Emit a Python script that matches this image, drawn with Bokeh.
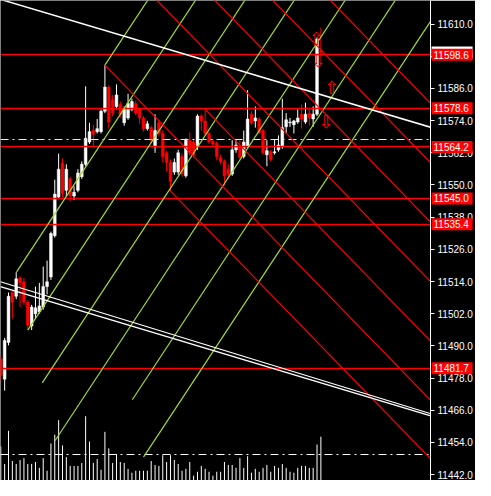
import numpy as np
from bokeh.plotting import figure
from bokeh.models import Range1d, LinearAxis, FixedTicker, NumeralTickFormatter, ColumnDataSource
from bokeh.core.properties import value
from bokeh.embed import file_html
from bokeh.resources import INLINE

# ---- candle data (bar index 0..83) ----
opens = [11485.1, 11477.6, 11491.3, 11509.9, 11508.5, 11515.3, 11513.9, 11506.3, 11497.4, 11502.0,
         11502.7, 11504.5, 11512.1, 11515.7, 11531.1, 11545.5, 11558.1, 11548.0, 11552.3, 11545.9,
         11548.0, 11553.1, 11557.7, 11566.0, 11570.3, 11569.9, 11569.9, 11577.5, 11586.5, 11581.8,
         11579.3, 11580.0, 11573.2, 11575.0, 11578.2, 11580.4, 11578.2, 11575.0, 11571.0, 11571.4,
         11564.2, 11573.2, 11569.2, 11562.0, 11558.4, 11554.8, 11554.8, 11560.6, 11553.4, 11566.7,
         11566.0, 11564.2, 11575.7, 11573.9, 11569.2, 11566.3, 11565.6, 11560.2, 11558.8, 11555.9,
         11554.1, 11563.1, 11564.2, 11560.6, 11564.2, 11576.4, 11573.9, 11574.6, 11570.3, 11561.3,
         11562.4, 11562.0, 11563.1, 11564.2, 11571.7, 11573.2, 11572.5, 11573.5, 11576.4, 11573.5,
         11576.8, 11574.6, 11576.4, 11600.1]
highs = [11486.6, 11493.0, 11509.9, 11511.0, 11517.5, 11516.0, 11515.3, 11507.1, 11505.3, 11512.1,
         11513.5, 11519.6, 11521.8, 11532.6, 11552.0, 11561.7, 11559.9, 11557.7, 11553.1, 11549.5,
         11555.9, 11558.8, 11586.8, 11573.2, 11572.5, 11574.6, 11578.2, 11594.7, 11587.2, 11583.6,
         11587.5, 11581.1, 11579.3, 11584.0, 11582.2, 11581.4, 11578.9, 11575.7, 11573.9, 11572.1,
         11576.4, 11574.3, 11570.3, 11562.8, 11559.5, 11559.9, 11563.1, 11561.7, 11567.4, 11569.6,
         11567.1, 11576.4, 11576.4, 11578.2, 11569.9, 11567.1, 11566.3, 11561.3, 11559.5, 11557.7,
         11566.7, 11566.7, 11566.7, 11570.3, 11585.4, 11577.5, 11579.3, 11575.3, 11571.0, 11566.7,
         11563.1, 11567.1, 11568.5, 11582.2, 11576.8, 11575.0, 11574.3, 11578.2, 11580.0, 11580.7,
         11578.6, 11579.3, 11605.1, 11608.7]
lows = [11476.9, 11473.3, 11490.2, 11500.2, 11507.4, 11504.5, 11505.3, 11495.9, 11495.9, 11500.2,
        11502.0, 11503.5, 11509.2, 11514.6, 11530.4, 11544.8, 11545.5, 11545.5, 11544.1, 11544.4,
        11547.3, 11552.3, 11557.0, 11565.3, 11564.2, 11569.2, 11569.2, 11576.8, 11571.0, 11575.7,
        11578.2, 11575.3, 11572.1, 11574.3, 11577.5, 11576.0, 11572.8, 11569.9, 11570.3, 11565.6,
        11562.0, 11568.1, 11558.4, 11555.2, 11547.7, 11553.8, 11553.8, 11553.1, 11552.7, 11561.0,
        11560.2, 11563.1, 11570.3, 11568.5, 11565.3, 11564.5, 11559.2, 11557.7, 11549.8, 11552.3,
        11553.4, 11562.0, 11559.5, 11559.9, 11563.5, 11572.5, 11571.4, 11568.9, 11561.3, 11557.0,
        11558.8, 11561.3, 11562.4, 11563.5, 11569.2, 11571.7, 11569.2, 11572.8, 11571.0, 11572.8,
        11572.1, 11571.7, 11575.7, 11598.0]
closes = [11479.0, 11492.0, 11508.5, 11506.3, 11515.0, 11513.5, 11506.3, 11497.7, 11504.5, 11504.2,
          11504.9, 11512.1, 11513.9, 11531.9, 11546.6, 11555.9, 11546.9, 11555.9, 11545.9, 11547.3,
          11554.5, 11557.7, 11567.4, 11569.9, 11568.9, 11571.0, 11577.5, 11586.5, 11573.5, 11576.8,
          11583.6, 11576.4, 11578.2, 11580.4, 11581.1, 11576.8, 11575.0, 11571.0, 11572.8, 11566.7,
          11570.3, 11569.2, 11560.6, 11558.4, 11551.3, 11558.4, 11562.0, 11554.1, 11566.7, 11562.0,
          11561.3, 11575.7, 11573.9, 11569.2, 11566.0, 11565.3, 11560.6, 11558.8, 11553.4, 11553.8,
          11563.1, 11564.9, 11560.2, 11566.0, 11574.6, 11573.2, 11575.0, 11569.6, 11562.0, 11562.8,
          11559.5, 11562.4, 11564.9, 11571.4, 11574.3, 11573.5, 11573.9, 11575.0, 11574.6, 11576.4,
          11575.0, 11576.4, 11604.4, 11599.4]
volumes = [350, 170, 510, 200, 170, 210, 230, 170, 170, 190,
           130, 230, 100, 380, 470, 620, 360, 240, 150, 150,
           150, 180, 660, 400, 180, 220, 110, 500, 330, 180,
           270, 190, 180, 120, 80, 100, 100, 100, 100, 200,
           160, 150, 260, 190, 260, 210, 170, 100, 120, 190,
           50, 90, 150, 120, 90, 50, 90, 90, 190, 160,
           160, 130, 230, 130, 250, 80, 120, 90, 130, 160,
           90, 150, 130, 170, 130, 90, 80, 130, 150, 150,
           130, 130, 370, 450]

# ---- horizontal levels / labels ----
levels = [11598.6, 11578.6, 11564.2, 11545.0, 11535.4, 11481.7]
level_labels = ["11598.6", "11578.6", "11564.2", "11545.0", "11535.4", "11481.7"]
bid_price = 11599.4
bid_label = "11599.4"
dashdot_level = 11566.95
volume_level = 267
price_ticks = list(range(11442, 11611, 12))

# ---- drawn objects (bar index, price) ----
green_x0 = [27.0, 4.1, 7.0, 10.75, 14.1, 34.1, 37.0]
green_y0 = [11594.7, 11517.6, 11495.9, 11476.2, 11454.7, 11469.9, 11448.5]
green_x1 = [38.6, 51.0, 63.8, 76.6, 89.8, 102.8, 112.0]
green_y1 = [11620.0, 11620.0, 11620.0, 11620.0, 11620.0, 11620.0, 11612.3]

red_x0 = [83.3, 68.4, 53.4, 38.4, 53.0, 27.0, 44.0]
red_y0 = [11622.0, 11622.0, 11622.0, 11622.0, 11578.2, 11594.7, 11547.7]
red_x1 = [112.0, 112.0, 112.0, 112.0, 112.0, 112.0, 112.0]
red_y1 = [11579.6, 11557.5, 11535.3, 11513.1, 11490.9, 11468.9, 11447.1]

white_x0 = [-1.0, -0.1, -0.1]
white_y0 = [11619.6, 11513.9, 11512.1]
white_x1 = [112.0, 111.5, 111.5]
white_y1 = [11571.3, 11464.7, 11463.9]
white_w = [1.5, 1.2, 1.5]

arrow_x = [81.9, 82.4, 85.9, 84.4]
arrow_y = [11604.8, 11596.5, 11586.5, 11573.5]
arrow_sym = ["\u21e7", "\u21e9", "\u21e7", "\u21e9"]

# ---- build ----
X_END = 111.425
bars = np.arange(len(closes))
o = np.array(opens); c = np.array(closes)
up = c >= o
colors = np.where(up, "white", "red")
src = ColumnDataSource(dict(x=bars, o=o, c=c, h=highs, l=lows,
                            top=np.maximum(o, c), bot=np.minimum(o, c), col=colors))

p = figure(width=475, height=480, x_range=Range1d(-0.075, X_END),
           y_range=Range1d(11439.8, 11618.8), output_backend="svg", toolbar_location=None,
           min_border=0, background_fill_color="black", border_fill_color="black",
           outline_line_color=None, x_axis_location=None, y_axis_location=None)
p.grid.visible = False
p.extra_y_ranges = {"vol": Range1d(0, 4930)}

ax = LinearAxis(ticker=FixedTicker(ticks=price_ticks), formatter=NumeralTickFormatter(format="0.0"))
ax.axis_line_color = "white"
ax.major_tick_line_color = "white"
ax.major_tick_out = 4
ax.major_tick_in = 0
ax.minor_tick_line_color = None
ax.major_label_text_color = "white"
ax.major_label_text_font = "Liberation Sans"
ax.major_label_text_font_size = "10px"
ax.major_label_standoff = 3
p.add_layout(ax, "right")

# volumes
p.segment(x0=bars, y0=0, x1=bars, y1=volumes, y_range_name="vol", line_color="white", line_width=1)
p.hspan(y=[volume_level], y_range_name="vol", line_color="white", line_dash="8 4 2 4", line_width=1)

# candles
p.segment(x0="x", y0="l", x1="x", y1="h", source=src, line_color="col", line_width=1)
p.vbar(x="x", top="top", bottom="bot", width=0.72, source=src, fill_color="col", line_color="col", line_width=0.5)

# horizontal levels
p.hspan(y=levels, line_color="#ff0000", line_width=1.3)
p.hspan(y=[dashdot_level], line_color="#d6f2f2", line_dash="8 4 2 4", line_width=1.2)

# diagonal objects
p.segment(x0=green_x0, y0=green_y0, x1=green_x1, y1=green_y1, line_color="#a2dc2a", line_width=1.2)
p.segment(x0=red_x0, y0=red_y0, x1=red_x1, y1=red_y1, line_color="#ff0000", line_width=1.2)
p.segment(x0=white_x0, y0=white_y0, x1=white_x1, y1=white_y1, line_color="white", line_width=white_w)

# trade arrows
p.text(x=arrow_x, y=arrow_y, text=arrow_sym, text_color="red", text_font=value("DejaVu Sans"),
       text_font_size="18px", text_align="center", text_baseline="middle")

# price boxes on the scale (overlay level so they can sit over the axis area)
box_x = X_END + 5.6
n = len(levels)
p.rect(x=[box_x], y=[bid_price], width=41, height=12, width_units="screen", height_units="screen",
       fill_color="white", line_color=None, level="overlay")
p.text(x=[X_END], y=[bid_price], text=[bid_label], x_offset=3, text_color="black",
       text_font=value("Liberation Sans"), text_font_size="10px", text_baseline="middle", level="overlay")
p.rect(x=[box_x] * n, y=levels, width=41, height=12, width_units="screen", height_units="screen",
       fill_color="#ff0000", line_color=None, level="overlay")
p.text(x=[X_END] * n, y=levels, text=level_labels, x_offset=3, text_color="white",
       text_font=value("Liberation Sans"), text_font_size="10px", text_baseline="middle", level="overlay")

open("out.html", "w").write(file_html(p, INLINE))
